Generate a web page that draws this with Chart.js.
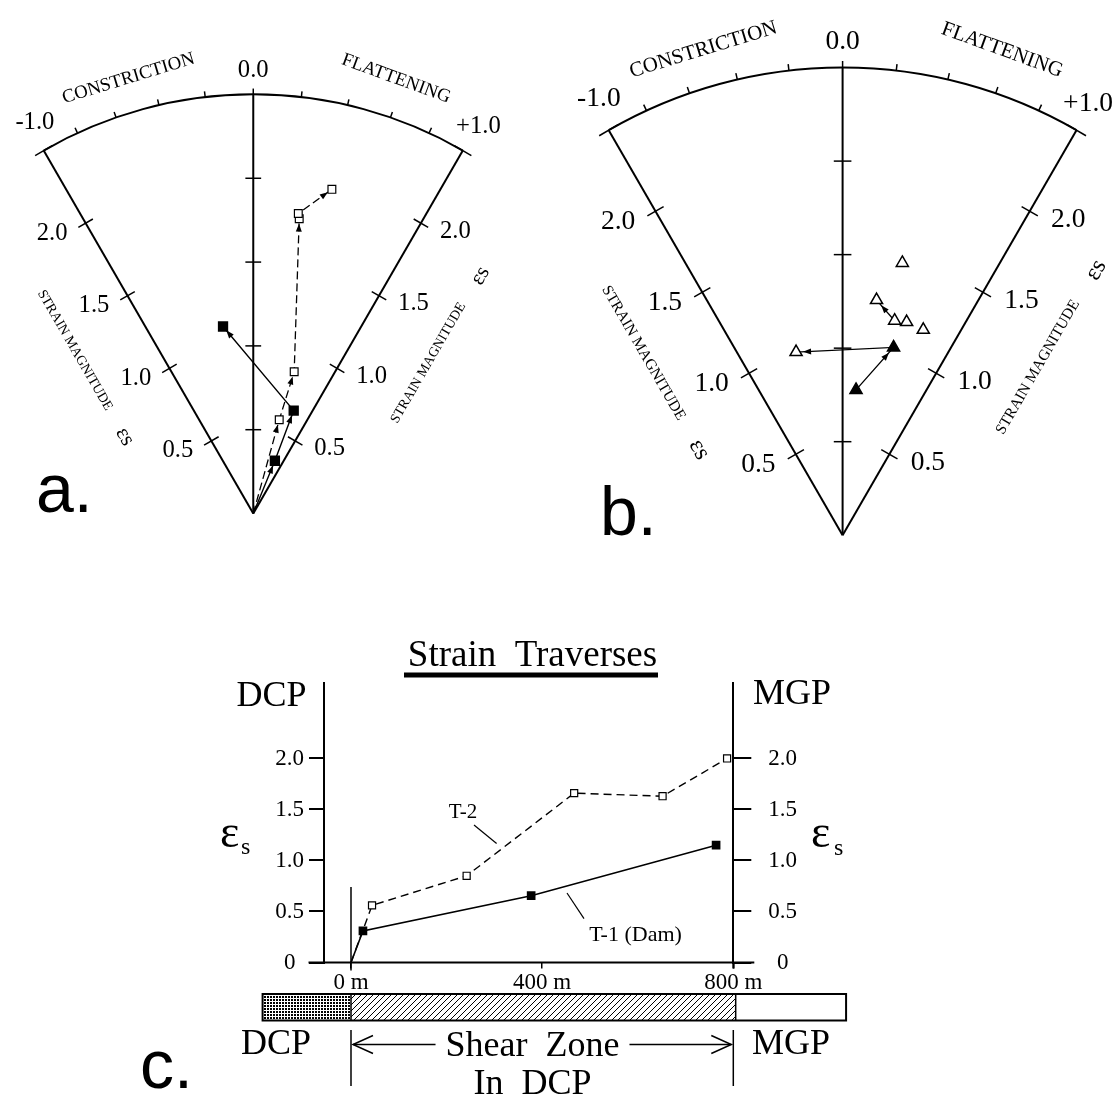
<!DOCTYPE html>
<html>
<head>
<meta charset="utf-8">
<title>Strain paths and strain traverses</title>
<script src="https://cdn.jsdelivr.net/npm/chart.js@4.4.1/dist/chart.umd.min.js"></script>
<style>
  html, body { margin: 0; padding: 0; background: #fff; }
  #wrap { position: relative; width: 1116px; height: 1098px; overflow: hidden; }
  #wrap canvas { position: absolute; left: 0; top: 0; }
</style>
</head>
<body>
<div id="wrap">
  <canvas id="chartA" width="1116" height="1098"></canvas>
  <canvas id="chartB" width="1116" height="1098"></canvas>
  <canvas id="chartC" width="1116" height="1098"></canvas>
</div>
<script>
// Hsu plots: Lode parameter nu (-1..+1) and strain magnitude es
const aT1Nu = [0, 0.71, 0.68, -0.28];
const aT1Es = [0, 0.34, 0.66, 1.13];
const aT2Nu = [0, 0.48, 0.50, 0.27, 0.26, 0.42];
const aT2Es = [0, 0.58, 0.88, 1.78, 1.81, 1.99];

const bT5Nu = [0.38, 0.25, 0.42, 0.52, 0.68];
const bT5Es = [1.49, 1.27, 1.18, 1.19, 1.18];
const bT5Arrow = [2, 1];
const bT6Nu = [0.16, 0.47, -0.44];
const bT6Es = [0.78, 1.04, 1.01];
const bT6Filled = [true, true, false];

const hsuEsTicks = [0.5, 1.0, 1.5, 2.0];
const hsuNuTicks = [-1.0, -0.8, -0.6, -0.4, -0.2, 0, 0.2, 0.4, 0.6, 0.8, 1.0];
const hsuNuLabels = ['-1.0', '0.0', '+1.0'];
const hsuMaxEs = 2.5;

// strain traverses (distance in m, es)
const t1Dist = [0, 25, 377, 764];
const t1Es = [0, 0.31, 0.655, 1.15];
const t2Dist = [0, 44, 242, 467, 652, 787];
const t2Es = [0, 0.56, 0.85, 1.66, 1.63, 2.0];
const cYTicks = [0, 0.5, 1.0, 1.5, 2.0];
const cXTicks = [0, 400, 800];
const zoneStart = [-185, 0, 805];
const zoneEnd = [0, 805, 1036];

const SERIF = '"Liberation Serif", "Times New Roman", "DejaVu Serif", serif';
const SANS = '"Liberation Sans", Arial, sans-serif';
Chart.defaults.font.family = SERIF;
Chart.defaults.color = '#000';

const R3 = Math.sqrt(3);
const lodeAngle = nu => Math.atan(nu / R3);
const toXY = (nu, es) => ({ x: es * Math.sin(lodeAngle(nu)), y: es * Math.cos(lodeAngle(nu)) });
const pts = (nus, ess) => nus.map((n, i) => toXY(n, ess[i]));

function line(ctx, x1, y1, x2, y2) {
  ctx.beginPath(); ctx.moveTo(x1, y1); ctx.lineTo(x2, y2); ctx.stroke();
}
function text(ctx, s, x, y, font, rot = 0, align = 'center', base = 'middle') {
  ctx.save();
  ctx.translate(x, y);
  ctx.rotate(rot * Math.PI / 180);
  ctx.font = font; ctx.textAlign = align; ctx.textBaseline = base;
  ctx.fillText(s, 0, 0);
  ctx.restore();
}

// wedge frame, ticks and labels of a Hsu diagram
const hsuFrame = {
  id: 'hsuFrame',
  beforeDatasetsDraw(chart, args, opts) {
    const { ctx } = chart;
    const sx = chart.scales.x, sy = chart.scales.y;
    const unit = sx.getPixelForValue(1) - sx.getPixelForValue(0);
    const k = unit / 170;
    const px = p => ({ x: sx.getPixelForValue(p.x), y: sy.getPixelForValue(p.y) });
    const P = (nu, es) => px(toXY(nu, es));
    const Q = (deg, r) => { const t = deg * Math.PI / 180; return px({ x: r * Math.sin(t), y: r * Math.cos(t) }); };
    const O = P(0, 0);
    const R = hsuMaxEs;
    const L = { d: [-0.5, -R3 / 2], n: [-R3 / 2, 0.5] };
    const Rt = { d: [0.5, -R3 / 2], n: [R3 / 2, 0.5] };
    const along = (s, u, v) => ({ x: O.x + (s.d[0] * u + s.n[0] * v) * unit, y: O.y + (s.d[1] * u + s.n[1] * v) * unit });

    ctx.save();
    ctx.strokeStyle = '#000'; ctx.fillStyle = '#000';
    ctx.lineWidth = 2;
    [-1, 0, 1].forEach(nu => { const e = P(nu, R); line(ctx, O.x, O.y, e.x, e.y); });
    ctx.beginPath();
    ctx.arc(O.x, O.y, R * unit, -Math.PI / 2 - Math.PI / 6, -Math.PI / 2 + Math.PI / 6);
    ctx.stroke();

    ctx.lineWidth = 1.5;
    hsuNuTicks.forEach(nu => {
      const a = P(nu, R);
      if (Math.abs(nu) === 1) {
        const n = nu < 0 ? L.n : Rt.n, h = 10 * k;
        line(ctx, a.x - n[0] * h, a.y - n[1] * h, a.x + n[0] * h, a.y + n[1] * h);
      } else {
        const b = P(nu, R + 6 * k / unit);
        line(ctx, a.x, a.y, b.x, b.y);
      }
    });
    hsuEsTicks.forEach(es => {
      [[-1, L], [1, Rt]].forEach(([nu, s]) => {
        const a = P(nu, es), h = 8.5 * k;
        line(ctx, a.x - s.n[0] * h, a.y - s.n[1] * h, a.x + s.n[0] * h, a.y + s.n[1] * h);
      });
      const c = P(0, es);
      line(ctx, c.x - 8 * k, c.y, c.x + 8 * k, c.y);
    });

    const big = `${25 * k}px ${SERIF}`;
    const nuPos = [[-29.2, 2.67], [0, 2.64], [30.2, 2.67]];
    ctx.font = big;
    hsuNuLabels.forEach((s, i) => {
      const p = Q(nuPos[i][0], nuPos[i][1]);
      const hw = ctx.measureText(s).width / 2;
      text(ctx, s, Math.min(p.x, chart.width - 3 - hw), p.y, big);
    });
    let p = Q(-16, 2.70);
    text(ctx, 'CONSTRICTION', p.x, p.y, `${19 * k}px ${SERIF}`, -17);
    p = Q(18.2, 2.73);
    text(ctx, 'FLATTENING', p.x, p.y, `${19 * k}px ${SERIF}`, 20);

    hsuEsTicks.forEach(es => {
      const a = P(-1, es), b = P(1, es);
      text(ctx, es.toFixed(1), a.x - 34 * k, a.y + 10 * k, big);
      text(ctx, es.toFixed(1), b.x + 35 * k, b.y + 8 * k, big);
    });

    p = along(L, 1.375, 0.435);
    text(ctx, 'STRAIN MAGNITUDE', p.x, p.y, `${14 * k}px ${SERIF}`, 60);
    p = along(L, 0.78, 0.435);
    text(ctx, 'εs', p.x, p.y, `${22 * k}px ${SERIF}`, 60);
    p = along(Rt, 1.30, 0.455);
    text(ctx, 'STRAIN MAGNITUDE', p.x, p.y, `${14 * k}px ${SERIF}`, -60);
    p = along(Rt, 1.905, 0.465);
    text(ctx, 'εs', p.x, p.y, `${22 * k}px ${SERIF}`, -60);

    text(ctx, opts.letter, opts.lx, opts.ly, `68px ${SANS}`, 0, 'left', 'alphabetic');
    ctx.restore();
  }
};

// small filled arrowheads at the end of each path segment
const arrowHeads = {
  id: 'arrowHeads',
  afterDatasetsDraw(chart) {
    const { ctx } = chart;
    chart.data.datasets.forEach((ds, i) => {
      if (!ds.arrows) return;
      const els = chart.getDatasetMeta(i).data;
      ctx.save();
      ctx.fillStyle = '#000';
      for (let j = 1; j < els.length; j++) {
        const a = els[j - 1], b = els[j];
        const dx = b.x - a.x, dy = b.y - a.y, len = Math.hypot(dx, dy);
        if (len < 15) continue;
        const ux = dx / len, uy = dy / len;
        const tx = b.x - ux * ds.arrowGap, ty = b.y - uy * ds.arrowGap;
        const hl = 8, hw = 3;
        ctx.beginPath();
        ctx.moveTo(tx, ty);
        ctx.lineTo(tx - ux * hl - uy * hw, ty - uy * hl + ux * hw);
        ctx.lineTo(tx - ux * hl + uy * hw, ty - uy * hl - ux * hw);
        ctx.closePath();
        ctx.fill();
      }
      ctx.restore();
    });
  }
};

function hsuChart(id, ox, oy, unit, datasets, letter) {
  const W = 1116, H = 1098;
  return new Chart(document.getElementById(id), {
    type: 'scatter',
    data: { datasets },
    options: {
      responsive: false,
      animation: false,
      events: [],
      layout: { padding: 0 },
      plugins: {
        legend: { display: false },
        tooltip: { enabled: false },
        hsuFrame: letter
      },
      scales: {
        x: { type: 'linear', display: false, min: -ox / unit, max: (W - ox) / unit },
        y: { type: 'linear', display: false, min: -(H - oy) / unit, max: oy / unit }
      }
    },
    plugins: [hsuFrame, arrowHeads]
  });
}

const skipFirst = r => ctx => ctx.dataIndex === 0 ? 0 : r;

hsuChart('chartA', 249, 513, 170, [
  {
    label: 'T-1', data: pts(aT1Nu, aT1Es), showLine: true,
    borderColor: '#000', borderWidth: 1.4,
    pointStyle: 'rect', pointRadius: skipFirst(6.3),
    pointBackgroundColor: '#000', pointBorderColor: '#000',
    arrows: true, arrowGap: 5
  },
  {
    label: 'T-2', data: pts(aT2Nu, aT2Es), showLine: true,
    borderColor: '#000', borderWidth: 1.3, borderDash: [8, 4],
    pointStyle: 'rect', pointRadius: skipFirst(5.5),
    pointBackgroundColor: '#fff', pointBorderColor: '#000', pointBorderWidth: 1.2,
    arrows: true, arrowGap: 5
  }
], { letter: 'a.', lx: 36, ly: 512 });

const t5 = pts(bT5Nu, bT5Es);
hsuChart('chartB', 847, 535, 190, [
  {
    label: 'T-5', data: t5, showLine: false, order: 0,
    pointStyle: 'triangle', pointRadius: 7,
    pointBackgroundColor: '#fff', pointBorderColor: '#000', pointBorderWidth: 1.5
  },
  {
    label: 'T-6', data: pts(bT6Nu, bT6Es), showLine: true, order: 0,
    borderColor: '#000', borderWidth: 1.3,
    pointStyle: 'triangle', pointRadius: 7,
    pointBackgroundColor: ctx => bT6Filled[ctx.dataIndex] ? '#000' : '#fff',
    pointBorderColor: '#000', pointBorderWidth: 1.5,
    arrows: true, arrowGap: 7
  },
  {
    label: 'T-5 path', data: bT5Arrow.map(i => t5[i]), showLine: true, order: 1,
    borderColor: '#000', borderWidth: 1.3, pointRadius: 0,
    arrows: true, arrowGap: 7
  }
], { letter: 'b.', lx: 600, ly: 535 });

// strip patterns for the zone bar
function pattern(ctx, size, draw) {
  const c = document.createElement('canvas');
  c.width = c.height = size;
  const g = c.getContext('2d');
  g.fillStyle = '#fff'; g.fillRect(0, 0, size, size);
  draw(g, size);
  return ctx.createPattern(c, 'repeat');
}

const traverseExtras = {
  id: 'traverseExtras',
  beforeDatasetsDraw(chart) {
    const { ctx, chartArea: ca } = chart;
    const sx = chart.scales.x, sy = chart.scales.y;
    const y0 = sy.getPixelForValue(0);
    const x0 = sx.getPixelForValue(0), x800 = sx.getPixelForValue(800);
    ctx.save();
    ctx.strokeStyle = '#000'; ctx.fillStyle = '#000';

    ctx.lineWidth = 2;
    line(ctx, ca.left - 15.5, y0, ca.right + 21, y0);
    line(ctx, ca.right, y0, ca.right, y0 + 6);
    ctx.lineWidth = 1.5;
    line(ctx, x0, sy.getPixelForValue(0.74), x0, y0 + 8);

    text(ctx, 'Strain  Traverses', 532.5, 666, `37px ${SERIF}`, 0, 'center', 'alphabetic');
    ctx.fillRect(404, 672.5, 254, 5);
    text(ctx, 'DCP', 271.5, 706, `36px ${SERIF}`, 0, 'center', 'alphabetic');
    text(ctx, 'MGP', 792, 704, `36px ${SERIF}`, 0, 'center', 'alphabetic');
    text(ctx, 'ε', 220, 847, `46px ${SERIF}`, 0, 'left', 'alphabetic');
    text(ctx, 's', 241, 853.5, `24px ${SERIF}`, 0, 'left', 'alphabetic');
    text(ctx, 'ε', 811, 847, `46px ${SERIF}`, 0, 'left', 'alphabetic');
    text(ctx, 's', 834, 855, `24px ${SERIF}`, 0, 'left', 'alphabetic');

    text(ctx, 'T-2', 463, 812, `21px ${SERIF}`);
    text(ctx, 'T-1 (Dam)', 635.5, 935, `22px ${SERIF}`);
    ctx.lineWidth = 1.2;
    line(ctx, 474, 825, 496.6, 843.5);
    line(ctx, 567, 893, 584, 918.6);

    // zone bar
    const barTop = 994, barH = 26.5;
    const fills = [
      pattern(ctx, 3, g => { g.fillStyle = '#000'; g.fillRect(0, 0, 2, 2); }),
      pattern(ctx, 6, g => {
        g.strokeStyle = '#000'; g.lineWidth = 1;
        g.beginPath();
        g.moveTo(0, 6); g.lineTo(6, 0);
        g.moveTo(-1, 1); g.lineTo(1, -1);
        g.moveTo(5, 7); g.lineTo(7, 5);
        g.stroke();
      }),
      '#fff'
    ];
    zoneStart.forEach((s, i) => {
      const a = sx.getPixelForValue(s), b = sx.getPixelForValue(zoneEnd[i]);
      ctx.fillStyle = fills[i];
      ctx.fillRect(a, barTop, b - a, barH);
    });
    ctx.fillStyle = '#000';
    const xl = sx.getPixelForValue(zoneStart[0]), xr = sx.getPixelForValue(zoneEnd[2]);
    ctx.lineWidth = 2;
    ctx.strokeRect(xl, barTop, xr - xl, barH);
    ctx.lineWidth = 1.5;
    [zoneEnd[0], zoneEnd[1]].forEach(v => { const x = sx.getPixelForValue(v); line(ctx, x, barTop, x, barTop + barH); });

    // labels and shear zone arrow under the bar
    const f = `36px ${SERIF}`;
    text(ctx, 'DCP', 276, 1054, f, 0, 'center', 'alphabetic');
    text(ctx, 'MGP', 791, 1054, f, 0, 'center', 'alphabetic');
    text(ctx, 'Shear  Zone', 532.5, 1056, f, 0, 'center', 'alphabetic');
    text(ctx, 'In  DCP', 532.5, 1094, f, 0, 'center', 'alphabetic');
    ctx.font = f;
    const w = ctx.measureText('Shear  Zone').width;
    const ya = 1044.5;
    ctx.lineWidth = 1.5;
    line(ctx, x0 + 2, ya, 532.5 - w / 2 - 10, ya);
    line(ctx, 532.5 + w / 2 + 10, ya, x800 - 2, ya);
    ctx.beginPath();
    ctx.moveTo(x0 + 22, ya - 9); ctx.lineTo(x0 + 2, ya); ctx.lineTo(x0 + 22, ya + 9);
    ctx.moveTo(x800 - 22, ya - 9); ctx.lineTo(x800 - 2, ya); ctx.lineTo(x800 - 22, ya + 9);
    ctx.stroke();
    line(ctx, x0, 1030, x0, 1086);
    line(ctx, x800, 1030, x800, 1086);

    text(ctx, 'c.', 140, 1088, `68px ${SANS}`, 0, 'left', 'alphabetic');
    ctx.restore();
  }
};

const yAxis = (position, tickLength, padding) => ({
  type: 'linear', position, min: 0, max: 2.74,
  afterBuildTicks: s => { s.ticks = cYTicks.map(v => ({ value: v })); },
  afterFit: s => { s.width = 70; },
  border: { display: true, color: '#000', width: 2 },
  grid: { drawOnChartArea: false, drawTicks: true, tickLength, color: '#000', lineWidth: 2 },
  ticks: { font: { size: 23 }, padding, crossAlign: 'center', callback: v => v === 0 ? '0' : v.toFixed(1) }
});

new Chart(document.getElementById('chartC'), {
  type: 'scatter',
  data: {
    datasets: [
      {
        label: 'T-1 (Dam)', data: t1Dist.map((d, i) => ({ x: d, y: t1Es[i] })), showLine: true,
        borderColor: '#000', borderWidth: 1.6,
        pointStyle: 'rect', pointRadius: skipFirst(5),
        pointBackgroundColor: '#000', pointBorderColor: '#000'
      },
      {
        label: 'T-2', data: t2Dist.map((d, i) => ({ x: d, y: t2Es[i] })), showLine: true,
        borderColor: '#000', borderWidth: 1.4, borderDash: [8, 5],
        pointStyle: 'rect', pointRadius: skipFirst(5),
        pointBackgroundColor: '#fff', pointBorderColor: '#000', pointBorderWidth: 1.2
      }
    ]
  },
  options: {
    responsive: false,
    animation: false,
    events: [],
    layout: { padding: { left: 254, right: 312.7, top: 683, bottom: 95.5 } },
    plugins: { legend: { display: false }, tooltip: { enabled: false } },
    scales: {
      x: {
        type: 'linear', min: -56.5, max: 800,
        afterBuildTicks: s => { s.ticks = cXTicks.map(v => ({ value: v })); },
        afterFit: s => { s.height = 40; },
        border: { display: false },
        grid: { drawOnChartArea: false, drawTicks: true, tickLength: 6, color: '#000', lineWidth: 1.5 },
        ticks: { font: { size: 23 }, padding: 1, maxRotation: 0, autoSkip: false, callback: v => v + ' m' }
      },
      y: yAxis('left', 15, 5),
      y2: yAxis('right', 18, 17)
    }
  },
  plugins: [traverseExtras]
});
</script>
</body>
</html>
